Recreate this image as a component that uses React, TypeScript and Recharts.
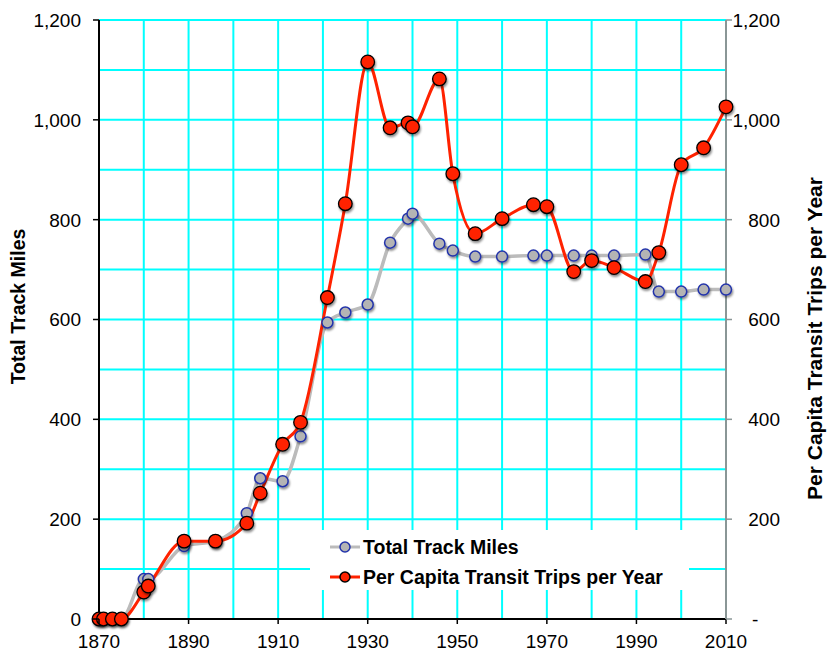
import React from "react";
import { LineChart, Line, XAxis, YAxis, CartesianGrid, Legend } from "recharts";

const years = [1870, 1871, 1873, 1875, 1880, 1881, 1889, 1896, 1903, 1906, 1911, 1915, 1921, 1925, 1930, 1935, 1939, 1940, 1946, 1949, 1954, 1960, 1967, 1970, 1976, 1980, 1985, 1992, 1995, 2000, 2005, 2010];
const trackMiles = [0, 0, 0, 0, 80, 80, 146, 156, 212, 282, 276, 366, 594, 614, 630, 754, 802, 812, 752, 738, 726, 726, 728, 728, 728, 728, 728, 730, 656, 656, 660, 660];
const tripsPerCapita = [0, 0, 0, 0, 54, 66, 156, 156, 192, 252, 350, 394, 644, 832, 1116, 984, 994, 986, 1082, 892, 772, 802, 830, 826, 696, 718, 704, 676, 734, 910, 944, 1026];

const xGridTicks = [1870, 1880, 1890, 1900, 1910, 1920, 1930, 1940, 1950, 1960, 1970, 1980, 1990, 2000, 2010];
const xLabelTicks = [1870, 1890, 1910, 1930, 1950, 1970, 1990, 2010];
const yGridTicks = [0, 100, 200, 300, 400, 500, 600, 700, 800, 900, 1000, 1100, 1200];
const yLabelTicks = [0, 200, 400, 600, 800, 1000, 1200];

const seriesNames = ["Total Track Miles", "Per Capita Transit Trips per Year"];

const data = years.map((y, i) => ({ year: y, miles: trackMiles[i], trips: tripsPerCapita[i] }));

const FONT = "'Liberation Sans', Arial, sans-serif";
const GRID = "#00FFFF";

const fmt = (v: number) => v.toLocaleString("en-US");

const XTick = (props: any) => {
  const { x, y, payload } = props;
  if (!xLabelTicks.includes(payload.value)) return null;
  return (
    <g>
      <line x1={x} x2={x} y1={y} y2={y + 5} stroke="#000" strokeWidth={1.5} />
      <text x={x} y={y + 29} textAnchor="middle" fontFamily={FONT} fontSize={19} fill="#000">
        {payload.value}
      </text>
    </g>
  );
};

const LeftTick = (props: any) => {
  const { x, y, payload } = props;
  if (!yLabelTicks.includes(payload.value)) return null;
  return (
    <g>
      <line x1={x - 6} x2={x} y1={y} y2={y} stroke="#000" strokeWidth={1.5} />
      <text x={x - 18} y={y} dy="0.36em" textAnchor="end" fontFamily={FONT} fontSize={19} fill="#000">
        {fmt(payload.value)}
      </text>
    </g>
  );
};

const RightTick = (props: any) => {
  const { x, y, payload } = props;
  const v = payload.value;
  return (
    <g>
      <line x1={x} x2={x + 6} y1={y} y2={y} stroke="#8A9696" strokeWidth={1.5} />
      {v === 0 ? (
        <text x={x + 26} y={y} dy="0.36em" textAnchor="start" fontFamily={FONT} fontSize={19} fill="#000">-</text>
      ) : (
        <text x={x + 54} y={y} dy="0.36em" textAnchor="end" fontFamily={FONT} fontSize={19} fill="#000">
          {fmt(v)}
        </text>
      )}
    </g>
  );
};

const LeftTitle = (props: any) => {
  const vb = props.viewBox || { x: 0, y: 20, width: 99, height: 599 };
  const cx = vb.x + 18;
  const cy = vb.y + vb.height / 2 - 13;
  return (
    <text x={cx} y={cy} transform={`rotate(-90, ${cx}, ${cy})`} textAnchor="middle" dy="0.36em" fontFamily={FONT} fontSize={19.5} fontWeight="bold" fill="#000">
      {seriesNames[0]}
    </text>
  );
};

const RightTitle = (props: any) => {
  const vb = props.viewBox || { x: 726, y: 20, width: 101, height: 599 };
  const cx = vb.x + 88.5;
  const cy = vb.y + vb.height / 2 + 19;
  return (
    <text x={cx} y={cy} transform={`rotate(-90, ${cx}, ${cy})`} textAnchor="middle" dy="0.36em" fontFamily={FONT} fontSize={21} fontWeight="bold" fill="#000">
      {seriesNames[1]}
    </text>
  );
};

const BlueDot = (props: any) => {
  const { cx, cy } = props;
  if (cx == null || cy == null) return null;
  return <circle cx={cx} cy={cy} r={5.5} fill="#B4B4B4" stroke="#2233AA" strokeWidth={1.5} filter="url(#shadow)" />;
};

const RedDot = (props: any) => {
  const { cx, cy } = props;
  if (cx == null || cy == null) return null;
  return <circle cx={cx} cy={cy} r={6.8} fill="#FF2200" stroke="#000" strokeWidth={1.3} filter="url(#shadow)" />;
};

const LegendIcon = ({ line, fill, stroke }: { line: string; fill: string; stroke: string }) => (
  <svg width={33} height={30} style={{ display: "block" }}>
    <line x1={0} x2={30} y1={15} y2={15} stroke={line} strokeWidth={3} />
    <circle cx={15} cy={15} r={5} fill={fill} stroke={stroke} strokeWidth={1.5} />
  </svg>
);

const legendText: React.CSSProperties = { fontFamily: FONT, fontSize: 19.5, fontWeight: 700, color: "#000", lineHeight: "30px", whiteSpace: "nowrap" };

const renderLegend = () => (
  <div style={{ background: "#fff", width: 379, height: 60, boxSizing: "border-box", paddingTop: 2, paddingLeft: 20 }}>
    <div style={{ display: "flex", alignItems: "center", height: 30 }}>
      <LegendIcon line="#BBBBBB" fill="#B4B4B4" stroke="#2233AA" />
      <span style={legendText}>{seriesNames[0]}</span>
    </div>
    <div style={{ display: "flex", alignItems: "center", height: 30 }}>
      <LegendIcon line="#FF2200" fill="#FF2200" stroke="#000" />
      <span style={legendText}>{seriesNames[1]}</span>
    </div>
  </div>
);

export default function App() {
  return (
    <div style={{ position: "absolute", left: 0, top: 0, width: 827, height: 651, background: "#fff" }}>
      <LineChart width={827} height={651} data={data} margin={{ top: 20, right: 0, bottom: 0, left: 0 }}>
        <defs>
          <filter id="shadow" x="-50%" y="-50%" width="200%" height="200%">
            <feDropShadow dx={1} dy={2} stdDeviation={1.2} floodColor="#000" floodOpacity={0.45} />
          </filter>
        </defs>
        <CartesianGrid yAxisId="left" stroke={GRID} strokeWidth={2} />
        <XAxis
          dataKey="year"
          type="number"
          domain={[1870, 2010]}
          ticks={xGridTicks}
          interval={0}
          height={32}
          tickSize={0}
          tickMargin={0}
          tick={<XTick />}
          axisLine={{ stroke: "#000", strokeWidth: 2 }}
          tickLine={false}
        />
        <YAxis
          yAxisId="left"
          domain={[0, 1200]}
          ticks={yGridTicks}
          interval={0}
          width={99}
          tickSize={0}
          tickMargin={0}
          tick={<LeftTick />}
          tickLine={false}
          axisLine={{ stroke: "#000", strokeWidth: 2 }}
          label={<LeftTitle />}
        />
        <YAxis
          yAxisId="right"
          orientation="right"
          domain={[0, 1200]}
          ticks={yLabelTicks}
          interval={0}
          width={101}
          tickSize={0}
          tickMargin={0}
          tick={<RightTick />}
          tickLine={false}
          axisLine={{ stroke: "#8A9696", strokeWidth: 2 }}
          label={<RightTitle />}
        />
        <Legend
          verticalAlign="middle"
          align="center"
          layout="horizontal"
          content={renderLegend}
          wrapperStyle={{ position: "absolute", left: 310, top: 530, width: 379, height: 60 }}
        />
        <Line
          yAxisId="left"
          type="monotone"
          dataKey="miles"
          name={seriesNames[0]}
          stroke="#BBBBBB"
          strokeWidth={3.5}
          dot={<BlueDot />}
          activeDot={false}
          isAnimationActive={false}
        />
        <Line
          yAxisId="right"
          type="monotone"
          dataKey="trips"
          name={seriesNames[1]}
          stroke="#FF2200"
          strokeWidth={3}
          dot={<RedDot />}
          activeDot={false}
          isAnimationActive={false}
        />
      </LineChart>
    </div>
  );
}
